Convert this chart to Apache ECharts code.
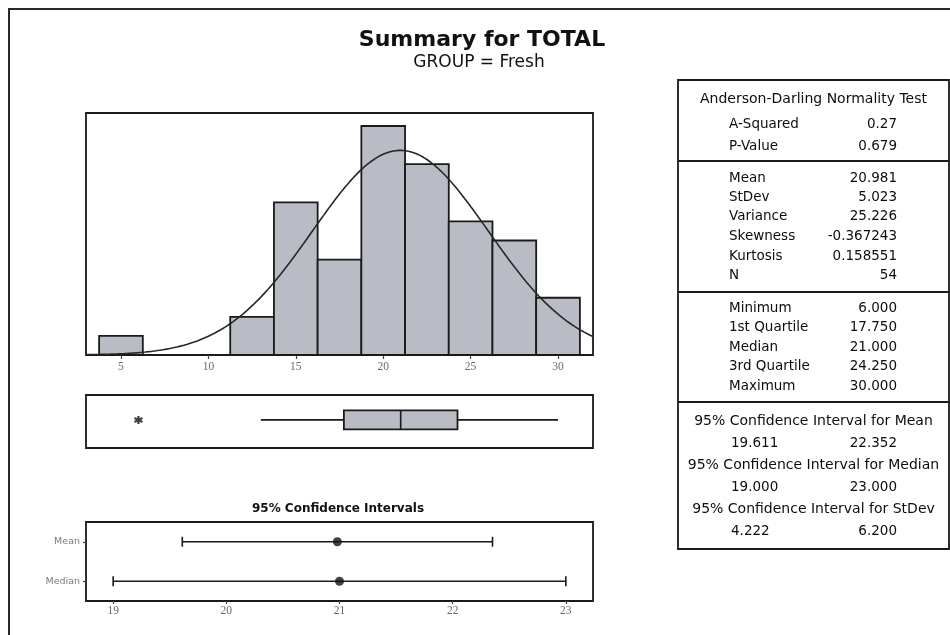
<!DOCTYPE html>
<html>
<head>
<meta charset="utf-8">
<script src="https://cdn.jsdelivr.net/npm/echarts@6/dist/echarts.min.js"></script>
<style>
  html, body { margin: 0; padding: 0; background: #ffffff; }
  #chart { width: 950px; height: 635px; }
</style>
</head>
<body>
<div id="chart"></div>
<script>
// ---- data: TOTAL, GROUP = Fresh ----
const binCenters = [5, 7.5, 10, 12.5, 15, 17.5, 20, 22.5, 25, 27.5, 30];
const binCounts  = [1, 0, 0, 2, 8, 5, 12, 10, 7, 6, 3];
const binWidth = 2.5;
const histTicks = [5, 10, 15, 20, 25, 30];

// whisker low, Q1, median, Q3, whisker high
const boxStats = [13, 17.75, 21, 24.25, 30];
const outliers = [6];

const ciNames = ['Mean', 'Median'];
const ciLow = [19.611, 19.0];
const ciHigh = [22.352, 23.0];
const ciEstimate = [20.981, 21.0];
const ciTicks = [19, 20, 21, 22, 23];

const nObs = 54;
const meanVal = 20.981;
const sdVal = 5.023;

const tableHeader = 'Anderson-Darling Normality Test';
const adLabels = ['A-Squared', 'P-Value'];
const adValues = ['0.27', '0.679'];
const momentLabels = ['Mean', 'StDev', 'Variance', 'Skewness', 'Kurtosis', 'N'];
const momentValues = ['20.981', '5.023', '25.226', '-0.367243', '0.158551', '54'];
const quantileLabels = ['Minimum', '1st Quartile', 'Median', '3rd Quartile', 'Maximum'];
const quantileValues = ['6.000', '17.750', '21.000', '24.250', '30.000'];
const ciTableTitles = ['95% Confidence Interval for Mean', '95% Confidence Interval for Median', '95% Confidence Interval for StDev'];
const ciTableLow = ['19.611', '19.000', '4.222'];
const ciTableHigh = ['22.352', '23.000', '6.200'];

// ---- layout ----
const FONT = '"DejaVu Sans", Verdana, sans-serif';
const INK = '#1a1a1a';
const BAR_FILL = '#b9bcc5';
const histXMin = 3, histXMax = 32;
const boxRow = 0.53;

// fitted normal curve scaled to counts per bin
const normalCurve = [];
for (let x = histXMin; x <= histXMax + 1e-9; x += 0.1) {
  const z = (x - meanVal) / sdVal;
  const dens = Math.exp(-0.5 * z * z) / (sdVal * Math.sqrt(2 * Math.PI));
  normalCurve.push([+x.toFixed(2), nObs * binWidth * dens]);
}

const ciCats = ciNames.slice().reverse(); // bottom-to-top order on the axis

// ---- stats table as graphic text ----
const TBL_L = 678, TBL_R = 949, TBL_T = 80, TBL_B = 549;
const TBL_C = (TBL_L + TBL_R) / 2;
const LBL_X = 729, VAL_X = 897;
const tableText = [];
function addText(text, x, y, align, size) {
  tableText.push({
    type: 'text',
    style: {
      text: text, x: x, y: y, fill: '#0d0d0d', font: (size || 13.5) + 'px ' + FONT,
      textAlign: align, textVerticalAlign: 'middle', align: align, verticalAlign: 'middle'
    }
  });
}
addText(tableHeader, TBL_C, 99, 'center', 14);
const adY = [124, 146];
adLabels.forEach((l, i) => { addText(l, LBL_X, adY[i], 'left'); addText(adValues[i], VAL_X, adY[i], 'right'); });
const momentY = [178, 197, 216, 236, 256, 275];
momentLabels.forEach((l, i) => { addText(l, LBL_X, momentY[i], 'left'); addText(momentValues[i], VAL_X, momentY[i], 'right'); });
const quantY = [308, 327, 347, 366, 386];
quantileLabels.forEach((l, i) => { addText(l, LBL_X, quantY[i], 'left'); addText(quantileValues[i], VAL_X, quantY[i], 'right'); });
const ciTitleY = [421, 465, 509];
ciTableTitles.forEach((t, i) => {
  addText(t, TBL_C, ciTitleY[i], 'center', 14);
  addText(ciTableLow[i], LBL_X + 2, ciTitleY[i] + 22, 'left');
  addText(ciTableHigh[i], VAL_X, ciTitleY[i] + 22, 'right');
});
const dividers = [161, 292, 402].map(y => ({
  type: 'line', shape: { x1: TBL_L, y1: y, x2: TBL_R, y2: y },
  style: { stroke: INK, lineWidth: 1.8 }
}));

const chart = echarts.init(document.getElementById('chart'), null, { renderer: 'canvas' });

const gridStyle = { show: true, borderColor: INK, borderWidth: 1.8, backgroundColor: 'transparent', containLabel: false };
const tickLabel = { fontFamily: '"Liberation Serif", serif', fontSize: 11.5, color: '#6a6a6a' };

chart.setOption({
  animation: false,
  backgroundColor: '#ffffff',
  grid: [
    Object.assign({ left: 86, top: 113, width: 507, height: 242 }, gridStyle),
    Object.assign({ left: 86, top: 395, width: 507, height: 53 }, gridStyle),
    Object.assign({ left: 86, top: 522, width: 507, height: 79 }, gridStyle)
  ],
  xAxis: [
    {
      gridIndex: 0, type: 'value', min: histXMin, max: histXMax,
      axisLine: { show: false }, splitLine: { show: false },
      axisTick: { show: true, customValues: histTicks, length: 4, lineStyle: { color: '#444', width: 1.2 } },
      axisLabel: Object.assign({ customValues: histTicks, margin: 6 }, tickLabel)
    },
    { gridIndex: 1, type: 'value', min: histXMin, max: histXMax, show: false },
    {
      gridIndex: 2, type: 'value', min: 18.76, max: 23.24,
      axisLine: { show: false }, splitLine: { show: false },
      axisTick: { show: true, customValues: ciTicks, length: 3, lineStyle: { color: '#444', width: 1.2 } },
      axisLabel: Object.assign({ customValues: ciTicks, margin: 4 }, tickLabel)
    }
  ],
  yAxis: [
    { gridIndex: 0, type: 'value', min: 0, max: 12.68, show: false },
    { gridIndex: 1, type: 'value', min: 0, max: 1, show: false },
    {
      gridIndex: 2, type: 'category', data: ciCats,
      axisLine: { show: false }, splitLine: { show: false },
      axisTick: { show: true, alignWithLabel: true, length: 3, lineStyle: { color: '#444', width: 1.2 } },
      axisLabel: { fontFamily: FONT, fontSize: 9.5, color: '#7a7a7a', margin: 6 }
    }
  ],
  series: [
    {
      name: 'Histogram', type: 'custom', xAxisIndex: 0, yAxisIndex: 0,
      data: binCenters.map((c, i) => [c, binCounts[i]]),
      renderItem: function (params, api) {
        const c = api.value(0), n = api.value(1);
        if (!n) return null;
        const p0 = api.coord([c - binWidth / 2, n]);
        const p1 = api.coord([c + binWidth / 2, 0]);
        return {
          type: 'rect',
          shape: { x: p0[0], y: p0[1], width: p1[0] - p0[0], height: p1[1] - p0[1] },
          style: { fill: BAR_FILL, stroke: INK, lineWidth: 1.8 }
        };
      },
      z: 2
    },
    {
      name: 'Normal fit', type: 'line', xAxisIndex: 0, yAxisIndex: 0,
      data: normalCurve, showSymbol: false, symbol: 'none', smooth: false,
      lineStyle: { color: '#262626', width: 1.6 }, z: 5
    },
    {
      name: 'Boxplot', type: 'custom', xAxisIndex: 1, yAxisIndex: 1,
      data: [boxStats],
      renderItem: function (params, api) {
        const lo = api.coord([api.value(0), boxRow]);
        const q1 = api.coord([api.value(1), boxRow]);
        const md = api.coord([api.value(2), boxRow]);
        const q3 = api.coord([api.value(3), boxRow]);
        const hi = api.coord([api.value(4), boxRow]);
        const y = lo[1], h = 9.5;
        const ls = { stroke: INK, lineWidth: 1.6 };
        return {
          type: 'group', children: [
            { type: 'line', shape: { x1: lo[0], y1: y, x2: q1[0], y2: y }, style: ls },
            { type: 'line', shape: { x1: q3[0], y1: y, x2: hi[0], y2: y }, style: ls },
            { type: 'rect', shape: { x: q1[0], y: y - h, width: q3[0] - q1[0], height: 2 * h }, style: { fill: BAR_FILL, stroke: INK, lineWidth: 1.8 } },
            { type: 'line', shape: { x1: md[0], y1: y - h, x2: md[0], y2: y + h }, style: ls }
          ]
        };
      }
    },
    {
      name: 'Outlier', type: 'scatter', xAxisIndex: 1, yAxisIndex: 1,
      data: outliers.map(v => [v, boxRow]),
      symbol: 'path://M5 0V10M0.7 2.5L9.3 7.5M0.7 7.5L9.3 2.5',
      symbolSize: 8,
      itemStyle: { color: '#111', borderColor: '#111', borderWidth: 2.2 }
    },
    {
      name: 'CI', type: 'custom', xAxisIndex: 2, yAxisIndex: 2,
      data: ciNames.map((n, i) => [ciLow[i], ciHigh[i], ciCats.indexOf(n)]),
      renderItem: function (params, api) {
        const a = api.coord([api.value(0), api.value(2)]);
        const b = api.coord([api.value(1), api.value(2)]);
        const cap = 5;
        const ls = { stroke: INK, lineWidth: 1.6 };
        return {
          type: 'group', children: [
            { type: 'line', shape: { x1: a[0], y1: a[1], x2: b[0], y2: b[1] }, style: ls },
            { type: 'line', shape: { x1: a[0], y1: a[1] - cap, x2: a[0], y2: a[1] + cap }, style: ls },
            { type: 'line', shape: { x1: b[0], y1: b[1] - cap, x2: b[0], y2: b[1] + cap }, style: ls }
          ]
        };
      }
    },
    {
      name: 'Estimate', type: 'scatter', xAxisIndex: 2, yAxisIndex: 2,
      data: ciNames.map((n, i) => [ciEstimate[i], ciCats.indexOf(n)]),
      symbol: 'circle', symbolSize: 9,
      itemStyle: { color: '#111' }, z: 6
    }
  ],
  graphic: [
    { type: 'rect', shape: { x: 9, y: 9, width: 980, height: 660 }, style: { fill: 'none', stroke: '#2a2a2a', lineWidth: 2 }, silent: true },
    { type: 'text', style: { text: 'Summary for TOTAL', x: 482, y: 40, fill: '#111', font: 'bold 22px ' + FONT, textAlign: 'center', textVerticalAlign: 'middle', align: 'center', verticalAlign: 'middle' } },
    { type: 'text', style: { text: 'GROUP = Fresh', x: 479, y: 63, fill: '#111', font: '17px ' + FONT, textAlign: 'center', textVerticalAlign: 'middle', align: 'center', verticalAlign: 'middle' } },
    { type: 'text', style: { text: '95% Confidence Intervals', x: 338, y: 509, fill: '#111', font: 'bold 12px ' + FONT, textAlign: 'center', textVerticalAlign: 'middle', align: 'center', verticalAlign: 'middle' } },
    { type: 'rect', shape: { x: TBL_L, y: TBL_T, width: TBL_R - TBL_L, height: TBL_B - TBL_T }, style: { fill: 'none', stroke: INK, lineWidth: 1.8 }, silent: true }
  ].concat(dividers, tableText)
});
</script>
</body>
</html>
